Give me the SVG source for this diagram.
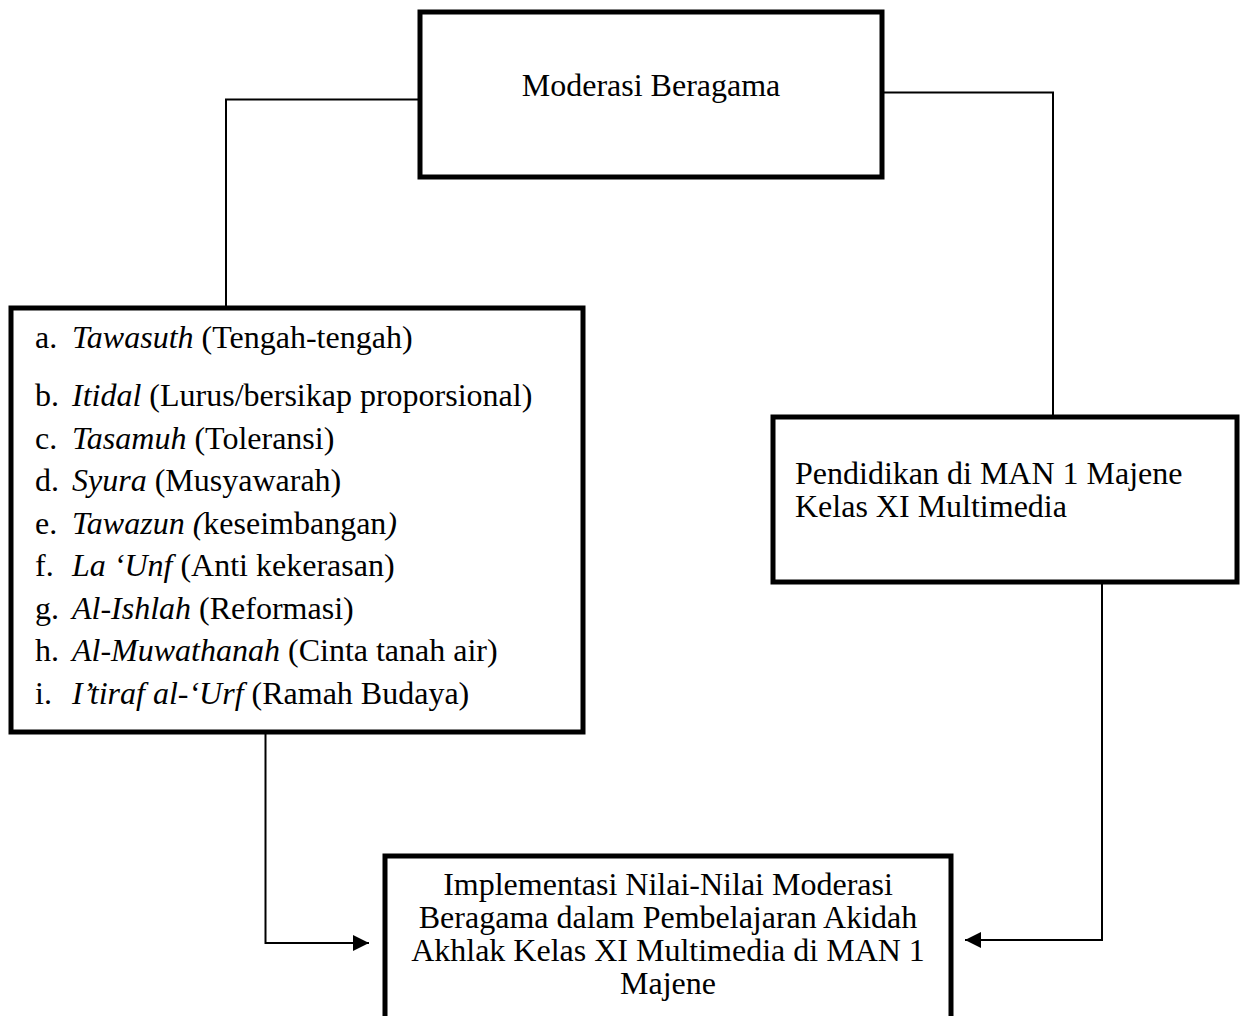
<svg xmlns="http://www.w3.org/2000/svg" width="1242" height="1016" viewBox="0 0 1242 1016">
<style>
  .box { fill: #ffffff; stroke: #000000; stroke-width: 5; }
  .t { font-family: "Liberation Serif", "Times New Roman", serif; font-size: 32px; fill: #000000; }
  .c { text-anchor: middle; }
  .i { font-style: italic; }
  .conn { fill: none; stroke: #000000; stroke-width: 2; }
</style>
<defs>
  <marker id="arrow" markerUnits="userSpaceOnUse" markerWidth="17" markerHeight="16" refX="16" refY="8" orient="auto">
    <path d="M0,0 L16,8 L0,16 Z" fill="#000000"/>
  </marker>
</defs>

<g id="connectors">
  <polyline class="conn" points="420,99.5 226,99.5 226,307"/>
  <polyline class="conn" points="882,92.5 1053,92.5 1053,417"/>
  <polyline class="conn" points="265.5,733 265.5,943 369,943" marker-end="url(#arrow)"/>
  <polyline class="conn" points="1102,582 1102,940 965,940" marker-end="url(#arrow)"/>
</g>

<g id="node-moderasi">
  <rect class="box" x="420" y="12" width="462" height="165"/>
  <text class="t c" x="651" y="96">Moderasi Beragama</text>
</g>

<g id="node-nilai">
  <rect class="box" x="11" y="308" width="572" height="424"/>
  <text class="t" x="35" y="348">a.</text><text class="t" x="72" y="348"><tspan class="i">Tawasuth</tspan> (Tengah-tengah)</text>
  <text class="t" x="35" y="406">b.</text><text class="t" x="72" y="406"><tspan class="i">Itidal</tspan> (Lurus/bersikap proporsional)</text>
  <text class="t" x="35" y="448.5">c.</text><text class="t" x="72" y="448.5"><tspan class="i">Tasamuh</tspan> (Toleransi)</text>
  <text class="t" x="35" y="491">d.</text><text class="t" x="72" y="491"><tspan class="i">Syura</tspan> (Musyawarah)</text>
  <text class="t" x="35" y="533.5">e.</text><text class="t" x="72" y="533.5"><tspan class="i">Tawazun (</tspan>keseimbangan<tspan class="i">)</tspan></text>
  <text class="t" x="35" y="576">f.</text><text class="t" x="72" y="576"><tspan class="i">La ‘Unf</tspan> (Anti kekerasan)</text>
  <text class="t" x="35" y="618.5">g.</text><text class="t" x="72" y="618.5"><tspan class="i">Al-Ishlah</tspan> (Reformasi)</text>
  <text class="t" x="35" y="661">h.</text><text class="t" x="72" y="661"><tspan class="i">Al-Muwathanah</tspan> (Cinta tanah air)</text>
  <text class="t" x="35" y="703.5">i.</text><text class="t" x="72" y="703.5"><tspan class="i">I’tiraf al-‘Urf</tspan> (Ramah Budaya)</text>
</g>

<g id="node-pendidikan">
  <rect class="box" x="773" y="417" width="464" height="165"/>
  <text class="t" x="795" y="484">Pendidikan di MAN 1 Majene</text>
  <text class="t" x="795" y="516.5">Kelas XI Multimedia</text>
</g>

<g id="node-implementasi">
  <rect class="box" x="385" y="856" width="566" height="170"/>
  <text class="t c" x="668" y="895">Implementasi Nilai-Nilai Moderasi</text>
  <text class="t c" x="668" y="928">Beragama dalam Pembelajaran Akidah</text>
  <text class="t c" x="668" y="961">Akhlak Kelas XI Multimedia di MAN 1</text>
  <text class="t c" x="668" y="994">Majene</text>
</g>
</svg>
